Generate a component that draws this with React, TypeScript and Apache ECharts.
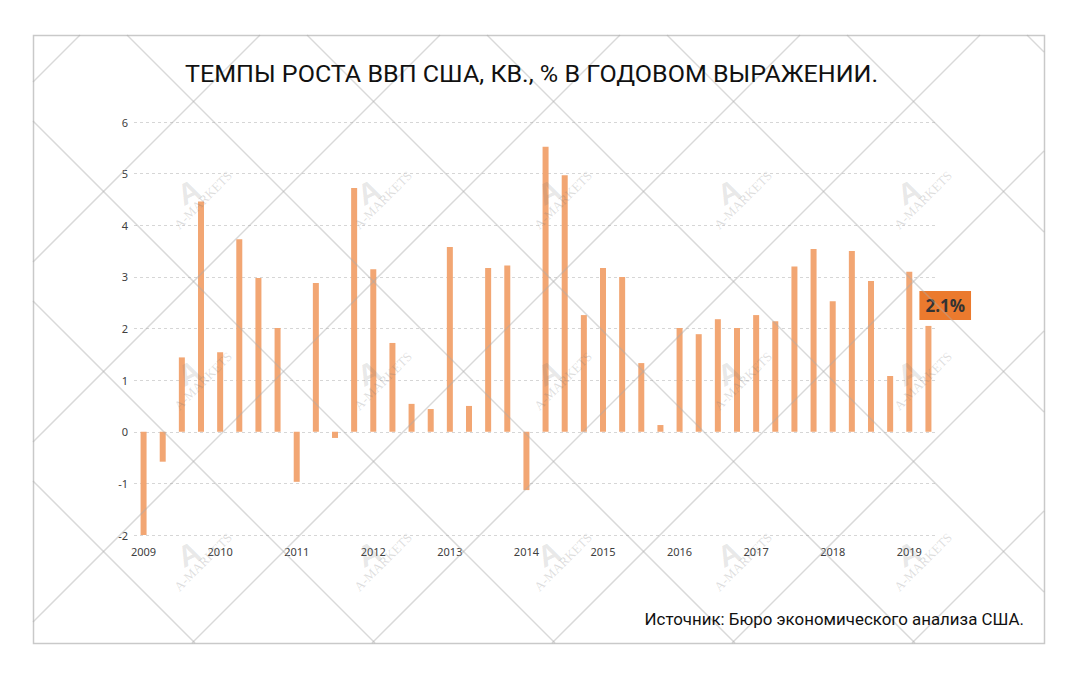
import React, { useEffect, useRef } from "react";
import * as echarts from "echarts";

const titleText = "ТЕМПЫ РОСТА ВВП США, КВ., % В ГОДОВОМ ВЫРАЖЕНИИ.";
const sourceText = "Источник: Бюро экономического анализа США.";
const watermarkText = "A-MARKETS";

const categories = [
  "2009 Q1", "2009 Q2", "2009 Q3", "2009 Q4",
  "2010 Q1", "2010 Q2", "2010 Q3", "2010 Q4",
  "2011 Q1", "2011 Q2", "2011 Q3", "2011 Q4",
  "2012 Q1", "2012 Q2", "2012 Q3", "2012 Q4",
  "2013 Q1", "2013 Q2", "2013 Q3", "2013 Q4",
  "2014 Q1", "2014 Q2", "2014 Q3", "2014 Q4",
  "2015 Q1", "2015 Q2", "2015 Q3", "2015 Q4",
  "2016 Q1", "2016 Q2", "2016 Q3", "2016 Q4",
  "2017 Q1", "2017 Q2", "2017 Q3", "2017 Q4",
  "2018 Q1", "2018 Q2", "2018 Q3", "2018 Q4",
  "2019 Q1", "2019 Q2",
];

const gdpGrowth = [
  -2.0, -0.58, 1.44, 4.46,
  1.54, 3.73, 2.98, 2.01,
  -0.97, 2.88, -0.12, 4.72,
  3.15, 1.72, 0.54, 0.44,
  3.58, 0.5, 3.17, 3.22,
  -1.13, 5.52, 4.97, 2.26,
  3.17, 3.0, 1.33, 0.13,
  2.01, 1.89, 2.18, 2.01,
  2.26, 2.14, 3.2, 3.54,
  2.53, 3.5, 2.92, 1.08,
  3.1, 2.05,
];

const lastLabel = "2.1%";

const yMin = -2;
const yMax = 6;
const yInterval = 1;

// decoration frame & watermark lattice
const FRAME = { l: 33, t: 35, r: 1044, b: 643 };
const PERIOD = 180;

function latticeLines() {
  const els: any[] = [];
  const { l, t, r, b } = FRAME;
  const stroke = { stroke: "rgba(170,170,170,0.45)", lineWidth: 1.5 };
  // lines x + y = c
  for (let c = 115 - PERIOD * 2; c <= r + b + PERIOD; c += PERIOD) {
    const x1 = Math.max(l, c - b);
    const x2 = Math.min(r, c - t);
    if (x2 > x1) {
      els.push({ type: "line", silent: true, z: 100, shape: { x1, y1: c - x1, x2, y2: c - x2 }, style: stroke });
    }
  }
  // lines x - y = c
  for (let c = 92 - PERIOD * 5; c <= r - t + PERIOD; c += PERIOD) {
    const x1 = Math.max(l, t + c);
    const x2 = Math.min(r, b + c);
    if (x2 > x1) {
      els.push({ type: "line", silent: true, z: 100, shape: { x1, y1: x1 - c, x2, y2: x2 - c }, style: stroke });
    }
  }
  return els;
}

function watermarks() {
  const els: any[] = [];
  const xs = [203, 383, 563, 743, 923];
  const ys = [200, 381, 562];
  for (const y of ys) {
    for (const x of xs) {
      els.push({
        type: "text",
        silent: true,
        z: 101,
        x,
        y,
        rotation: Math.PI / 4,
        style: {
          text: watermarkText,
          fill: "rgba(120,120,120,0.25)",
          font: "13px 'Liberation Serif', serif",
          textAlign: "center",
          textVerticalAlign: "middle",
        },
      });
      els.push({
        type: "text",
        silent: true,
        z: 101,
        x: x - 14,
        y: y - 8,
        rotation: Math.PI / 7,
        style: {
          text: "A",
          fill: "rgba(120,120,120,0.18)",
          font: "bold 30px 'Liberation Sans', sans-serif",
          textAlign: "center",
          textVerticalAlign: "middle",
        },
      });
    }
  }
  return els;
}

export default function App() {
  const ref = useRef<HTMLDivElement>(null);

  useEffect(() => {
    if (!ref.current) return;
    const chart = echarts.init(ref.current, undefined, { renderer: "svg" });
    const lastIdx = gdpGrowth.length - 1;
    const seriesData = gdpGrowth.map((v, i) =>
      i === lastIdx
        ? {
            value: v,
            label: {
              show: true,
              formatter: lastLabel,
              position: [-6, -35],
              backgroundColor: "#EB7A2E",
              color: "#333333",
              fontSize: 17,
              fontWeight: "bold",
              fontFamily: "'Open Sans', 'Noto Sans', sans-serif",
              lineHeight: 19,
              padding: [5, 6, 5, 6],
            },
          }
        : v
    );

    chart.setOption({
      animation: false,
      backgroundColor: "#ffffff",
      grid: { left: 134, top: 122, width: 804, height: 413, containLabel: false },
      xAxis: {
        type: "category",
        data: categories,
        boundaryGap: true,
        axisLine: { show: false },
        axisTick: { show: false },
        splitLine: { show: false },
        position: "bottom",
        axisLabel: {
          interval: 3,
          margin: 11,
          color: "#404040",
          fontSize: 11,
          fontFamily: "'Noto Sans', sans-serif",
          formatter: (v: string) => v.slice(0, 4),
        },
      },
      yAxis: {
        type: "value",
        min: yMin,
        max: yMax,
        interval: yInterval,
        axisLine: { show: false },
        axisTick: { show: false },
        axisLabel: {
          margin: 6,
          color: "#404040",
          fontSize: 11,
          fontFamily: "'Noto Sans', sans-serif",
        },
        splitLine: { show: true, lineStyle: { color: "#d6d6d6", type: [3, 3], width: 1 } },
      },
      series: [
        {
          type: "bar",
          data: seriesData,
          barWidth: 6,
          itemStyle: { color: "#F2A673" },
          z: 2,
        },
      ],
      graphic: [
        {
          type: "rect",
          silent: true,
          z: 99,
          shape: { x: FRAME.l + 0.5, y: FRAME.t + 0.5, width: FRAME.r - FRAME.l, height: FRAME.b - FRAME.t },
          style: { fill: "none", stroke: "#c9c9c9", lineWidth: 1.5 },
        },
        {
          type: "text",
          z: 102,
          x: 531.5,
          y: 74,
          scaleX: 1.045,
          style: {
            text: titleText,
            fill: "#111111",
            font: "24px Roboto, sans-serif",
            textAlign: "center",
            textVerticalAlign: "middle",
          },
        },
        {
          type: "text",
          z: 102,
          x: 1024,
          y: 620,
          scaleX: 1.055,
          style: {
            text: sourceText,
            fill: "#111111",
            font: "16px Roboto, sans-serif",
            textAlign: "right",
            textVerticalAlign: "middle",
          },
        },
        ...latticeLines(),
        ...watermarks(),
      ],
    });
    return () => chart.dispose();
  }, []);

  return (
    <div
      ref={ref}
      style={{ position: "absolute", left: 0, top: 0, width: 1078, height: 677, background: "#fff" }}
    />
  );
}
